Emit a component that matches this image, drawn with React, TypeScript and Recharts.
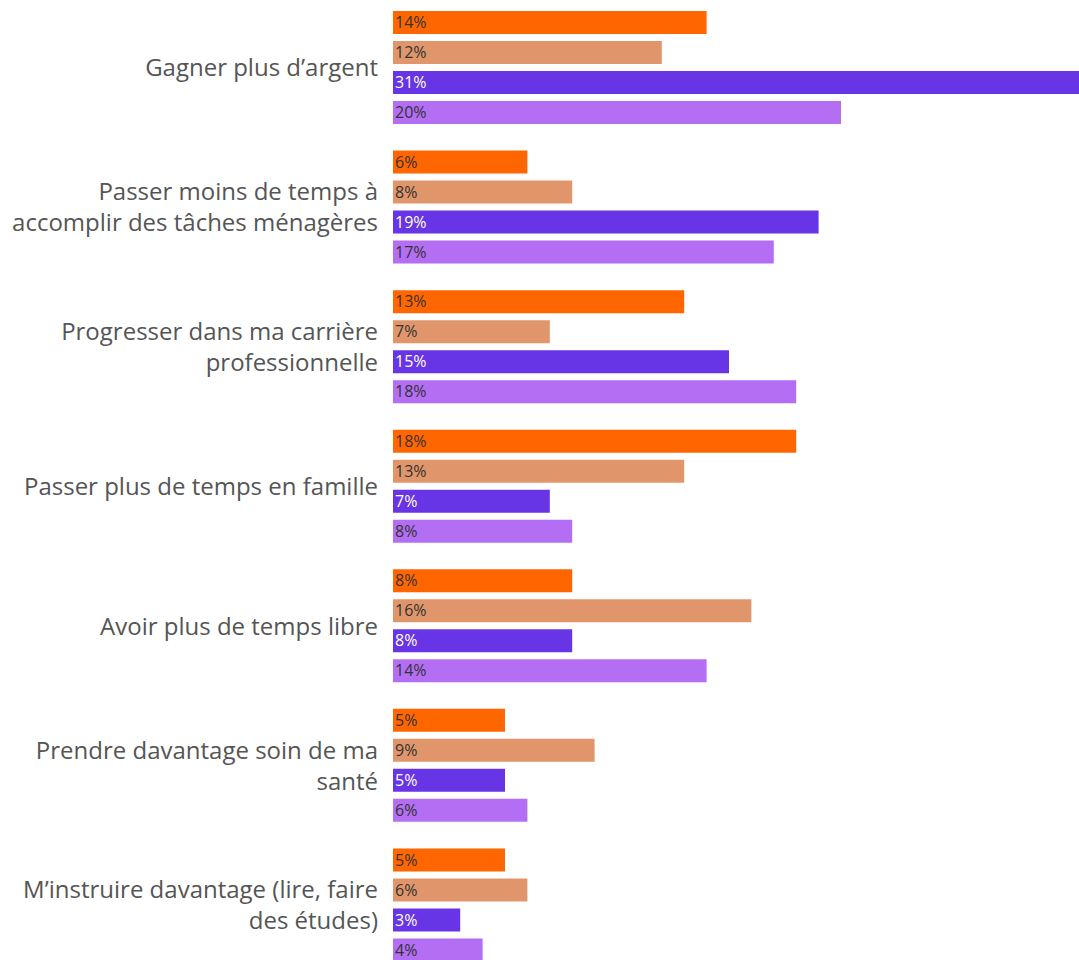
import { BarChart, Bar, XAxis, YAxis, LabelList } from "recharts";

// catégories (retours à la ligne comme dans l'image)
const categories = [
  "Gagner plus d’argent",
  "Passer moins de temps à\naccomplir des tâches ménagères",
  "Progresser dans ma carrière\nprofessionnelle",
  "Passer plus de temps en famille",
  "Avoir plus de temps libre",
  "Prendre davantage soin de ma\nsanté",
  "M’instruire davantage (lire, faire\ndes études)",
];

const serie1 = [14, 6, 13, 18, 8, 5, 5];
const serie2 = [12, 8, 7, 13, 16, 9, 6];
const serie3 = [31, 19, 15, 7, 8, 5, 3];
const serie4 = [20, 17, 18, 8, 14, 6, 4];

const series = [
  { key: "s1", values: serie1, color: "#FF6600", text: "#333" },
  { key: "s2", values: serie2, color: "#E0966A", text: "#333" },
  { key: "s3", values: serie3, color: "#6735E6", text: "#fff" },
  { key: "s4", values: serie4, color: "#B36EF4", text: "#333" },
];

const data = categories.map((name, i) => {
  const row: Record<string, string | number> = { name };
  series.forEach((s) => {
    row[s.key] = s.values[i];
  });
  return row;
});

const LINE_HEIGHT = 31;

function CategoryTick(props: any) {
  const { x, y, payload } = props;
  const lines = String(payload.value).split("\n");
  const start = y - ((lines.length - 1) * LINE_HEIGHT) / 2;
  return (
    <text
      x={x}
      y={start}
      textAnchor="end"
      fill="#555"
      fontSize={24}
      fontFamily="'Open Sans', sans-serif"
    >
      {lines.map((line, i) => (
        <tspan key={i} x={x} y={start + i * LINE_HEIGHT} dy="0.355em">
          {line}
        </tspan>
      ))}
    </text>
  );
}

export default function App() {
  return (
    <div
      style={{
        position: "absolute",
        left: 0,
        top: 0,
        width: 1079,
        height: 960,
        overflow: "hidden",
        background: "#fff",
      }}
    >
      <div style={{ position: "absolute", left: 0, top: -2 }}>
        <BarChart
          width={1177}
          height={977}
          data={data}
          layout="vertical"
          margin={{ top: 0, right: 0, bottom: 0, left: 0 }}
          barCategoryGap={13}
          barGap={7}
        >
          <XAxis type="number" domain={[0, 35]} hide />
          <YAxis
            type="category"
            dataKey="name"
            width={393}
            axisLine={false}
            tickLine={false}
            tickMargin={9}
            tick={<CategoryTick />}
            interval={0}
          />
          {series.map((s) => (
            <Bar
              key={s.key}
              dataKey={s.key}
              fill={s.color}
              isAnimationActive={false}
            >
              <LabelList
                dataKey={s.key}
                position="insideLeft"
                offset={2}
                formatter={(v: any) => `${v}%`}
                fill={s.text}
                fontSize={16}
                fontFamily="'Open Sans', sans-serif"
              />
            </Bar>
          ))}
        </BarChart>
      </div>
    </div>
  );
}
